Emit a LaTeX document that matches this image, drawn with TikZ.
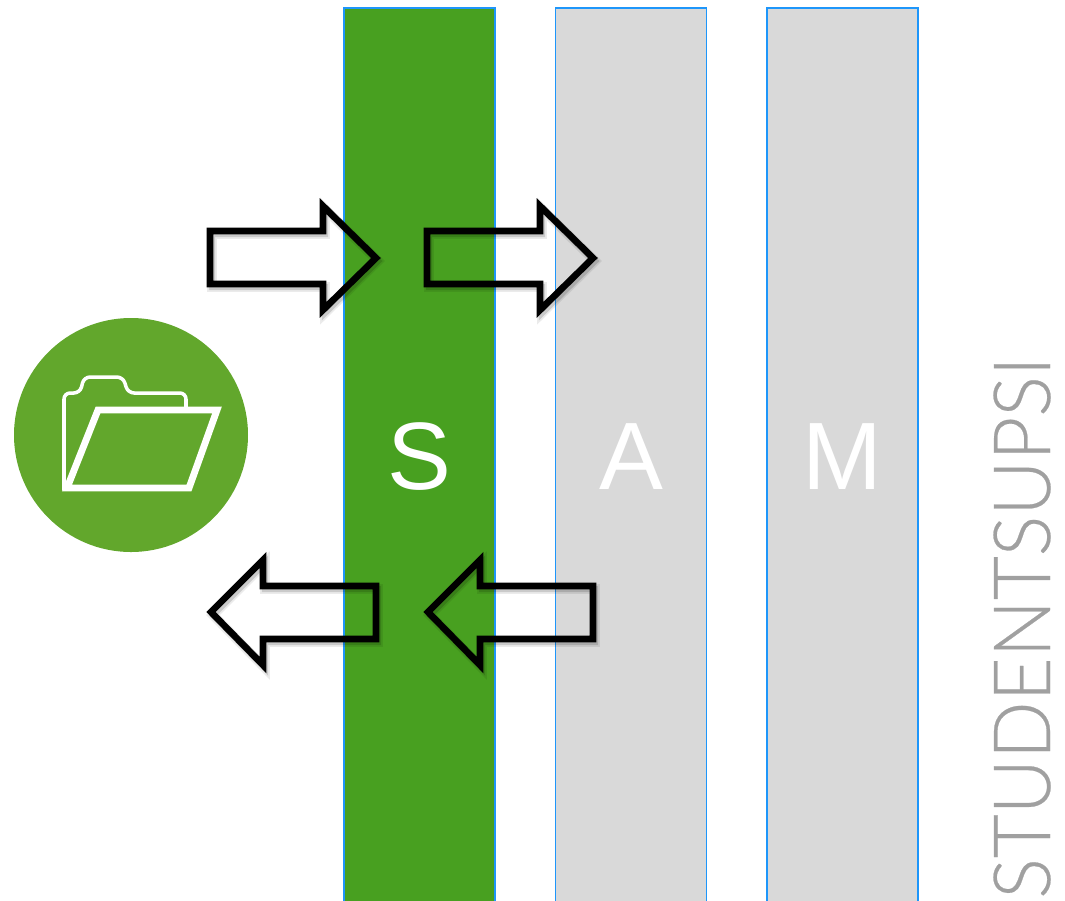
\documentclass[tikz,border=0pt]{standalone}
\usepackage{fontspec}
\setmainfont{Liberation Sans}
\newfontfamily\lightfont[FakeStretch=0.96, FakeBold=0.3]{Lato Light}
\definecolor{colgreen}{RGB}{72, 160, 32}
\definecolor{colgray}{RGB}{217, 217, 217}
\definecolor{colblue}{RGB}{30, 150, 250}
\definecolor{circlegreen}{RGB}{98, 167, 44}
\definecolor{textgray}{RGB}{160, 160, 160}
\tikzset{
  column/.style={draw=colblue, line width=1.1pt, minimum width=3.02cm, minimum height=17.96cm, inner sep=0pt, text=white, font=\fontsize{54.5}{60}\selectfont},
  blockarrow/.style={draw=black, line width=3.8pt},
  arrowblur/.style={draw=black, line width=5.5pt, opacity=.08, shift={(2,3)}},
  arrowshade/.style={draw=black, line width=3.6pt, opacity=.14, shift={(2,3)}},
  folderline/.style={draw=white, line join=round}
}
\newcommand{\blockarrow}[1]{
  \draw[arrowblur] #1;
  \draw[arrowshade] #1;
  \draw[blockarrow] #1;
}
\begin{document}
\begin{tikzpicture}[x=0.02cm, y=-0.02cm]
  \useasboundingbox (0,0) rectangle (1065,900);

  \node[column, fill=colgreen] (colS) at (419.5,457) {S};
  \node[column, fill=colgray] (colA) at (631,457) {A};
  \node[column, fill=colgray] (colM) at (842.5,457) {M};

  \node[font=\lightfont\fontsize{45}{50}\selectfont, text=textgray, rotate=90, anchor=base east, inner sep=0pt] (brand) at (1050,356) {STUDENTSUPSI};

  % folder
  \fill[circlegreen] (131,435) circle (117);
  \draw[folderline, line width=2pt, rounded corners=3.5pt] (64,490) -- (64,393) -- (80,393) -- (84,377) -- (123,377) -- (128,393) -- (186,393) -- (186,408);
  \draw[folderline, line width=3.9pt, line join=miter] (98,410) -- (217,410) -- (189,488) -- (67,488) -- cycle;

  % arrows in
  \blockarrow{(210,231) -- (323,231) -- (323,206) -- (376,258) -- (323,310) -- (323,284) -- (210,284) -- cycle}
  \blockarrow{(427,231) -- (540,231) -- (540,206) -- (593,258) -- (540,310) -- (540,284) -- (427,284) -- cycle}
  % arrows back
  \blockarrow{(376,586) -- (263,586) -- (263,560) -- (211,612) -- (263,665) -- (263,639) -- (376,639) -- cycle}
  \blockarrow{(593,586) -- (480,586) -- (480,560) -- (428,612) -- (480,665) -- (480,639) -- (593,639) -- cycle}
\end{tikzpicture}
\end{document}
